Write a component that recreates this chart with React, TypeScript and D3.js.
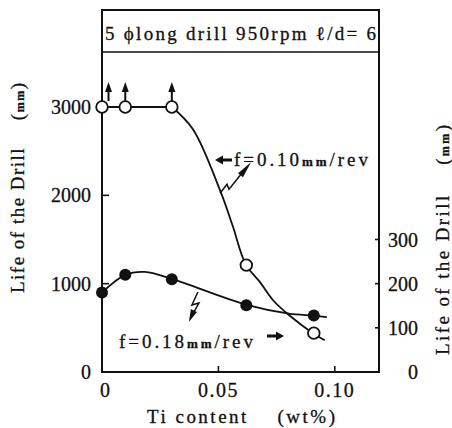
import React, { useEffect, useRef } from 'react'
import * as d3 from 'd3'

// marker values
const tiContent = [0, 0.01, 0.03, 0.062, 0.091]
const lifeF010 = [3000, 3000, 3000, 1210, 440]
const lifeF018 = [900, 1100, 1050, 755, 640]
// upward arrows = drill still alive at end of test
const arrowTi = [0.0028, 0.01, 0.03]

// traced curve paths (points along the drawn lines)
const flatTi = [0, 0.01, 0.03]
const flatLife = [3000, 3000, 3000]
const curve010Ti = [0.03, 0.039, 0.0511, 0.0562, 0.0618, 0.0678, 0.0734, 0.0803, 0.0906, 0.0957]
const curve010Life = [3000, 2750, 2030, 1650, 1216, 1020, 815, 645, 440, 360]
const curve018Ti = [0, 0.01, 0.0185, 0.03, 0.0622, 0.0803, 0.0914, 0.0966]
const curve018Life = [900, 1100, 1133, 1053, 759, 660, 638, 620]

const xTicks = [0, 0.05, 0.1]
const xTickLabels = ['0', '0.05', '0.10']
const leftTicks = [0, 1000, 2000, 3000]
const rightTicks = [0, 100, 200, 300]

const INK = '#111'
const FONT = 'Liberation Serif'

export default function App() {
  const svgRef = useRef<SVGSVGElement | null>(null)

  useEffect(() => {
    const W = 452, H = 428
    const left = 102, right = 379, top = 10, headerBottom = 52, bottom = 372

    const svg = d3.select(svgRef.current)
    svg.selectAll('*').remove()
    svg.attr('width', W).attr('height', H)
    svg.append('rect').attr('width', W).attr('height', H).attr('fill', '#fff')

    const txt = (sel: any) => sel.attr('font-family', FONT).attr('fill', INK)
      .attr('stroke', INK).attr('stroke-width', 0.3)

    const x = d3.scaleLinear().domain([0, 0.119]).range([left, right])
    const y = d3.scaleLinear().domain([0, 3000]).range([bottom, 107])
    const yR = d3.scaleLinear().domain([0, 600]).range([bottom, 107])

    // frame + header box
    svg.append('rect')
      .attr('x', left).attr('y', top).attr('width', right - left).attr('height', bottom - top)
      .attr('fill', 'none').attr('stroke', INK).attr('stroke-width', 2)
    svg.append('line')
      .attr('x1', left).attr('x2', right).attr('y1', headerBottom).attr('y2', headerBottom)
      .attr('stroke', INK).attr('stroke-width', 1.6)

    svg.append('text')
      .attr('x', left + 3).attr('y', 40)
      .attr('font-size', 19)
      .attr('textLength', 271).attr('lengthAdjust', 'spacing')
      .call(txt)
      .text('5 \u03d5long drill 950rpm \u2113/d= 6')

    // ticks
    leftTicks.filter(d => d > 0 && d < 3000).forEach(d => {
      svg.append('line').attr('x1', left).attr('x2', left + 7).attr('y1', y(d)).attr('y2', y(d))
        .attr('stroke', INK).attr('stroke-width', 1.6)
    })
    rightTicks.filter(d => d > 0).forEach(d => {
      svg.append('line').attr('x1', right - 4).attr('x2', right).attr('y1', yR(d)).attr('y2', yR(d))
        .attr('stroke', INK).attr('stroke-width', 1.6)
    })
    xTicks.filter(d => d > 0).forEach(d => {
      svg.append('line').attr('x1', x(d)).attr('x2', x(d)).attr('y1', bottom).attr('y2', bottom - 6)
        .attr('stroke', INK).attr('stroke-width', 1.6)
    })

    // tick labels
    leftTicks.forEach(d => {
      svg.append('text').attr('x', 91).attr('y', y(d) + 7)
        .attr('text-anchor', 'end').attr('font-size', 20).call(txt)
        .text(String(d))
    })
    rightTicks.forEach(d => {
      svg.append('text').attr('x', 418).attr('y', yR(d) + 7)
        .attr('text-anchor', 'end').attr('font-size', 20).call(txt)
        .text(String(d))
    })
    xTicks.forEach((d, i) => {
      svg.append('text').attr('x', x(d) + (i === 0 ? 3 : 0)).attr('y', 397)
        .attr('text-anchor', 'middle').attr('font-size', 20).call(txt)
        .attr('letter-spacing', i === 0 ? 0 : 1.5)
        .text(xTickLabels[i])
    })

    // axis titles
    svg.append('text')
      .attr('x', 147).attr('y', 423)
      .attr('font-size', 19).call(txt)
      .attr('textLength', 188).attr('lengthAdjust', 'spacing')
      .text('Ti content \u3000(wt%)')

    const yTitle = (cx: number, cy: number, len: number) => {
      const t = svg.append('text')
        .attr('transform', `translate(${cx},${cy}) rotate(-90)`)
        .attr('x', -len / 2).attr('dy', 6)
        .attr('font-size', 19).call(txt)
        .attr('textLength', len).attr('lengthAdjust', 'spacing')
      t.append('tspan').text('Life of the Drill \u3000(')
      t.append('tspan').attr('font-size', 12).attr('font-weight', 'bold').text('mm')
      t.append('tspan').text(')')
    }
    yTitle(18, 188, 210)
    yTitle(443, 240, 230)

    // lines
    const flatLine = d3.line<number>().x((_, i) => x(flatTi[i])).y(d => y(d))
    svg.append('path').attr('d', flatLine(flatLife))
      .attr('fill', 'none').attr('stroke', INK).attr('stroke-width', 1.8)

    const line010 = d3.line<number>().x((_, i) => x(curve010Ti[i])).y(d => y(d)).curve(d3.curveCatmullRom)
    svg.append('path').attr('d', line010(curve010Life))
      .attr('fill', 'none').attr('stroke', INK).attr('stroke-width', 1.8)

    const line018 = d3.line<number>().x((_, i) => x(curve018Ti[i])).y(d => y(d)).curve(d3.curveCatmullRom)
    svg.append('path').attr('d', line018(curve018Life))
      .attr('fill', 'none').attr('stroke', INK).attr('stroke-width', 1.8)

    // up arrows
    arrowTi.forEach(t => {
      const ax = x(t), ay = y(3000) - 6
      svg.append('line').attr('x1', ax).attr('x2', ax).attr('y1', ay).attr('y2', ay - 11)
        .attr('stroke', INK).attr('stroke-width', 2)
      svg.append('path')
        .attr('d', `M${ax - 3.5},${ay - 9} L${ax},${ay - 19} L${ax + 3.5},${ay - 9} Z`)
        .attr('fill', INK)
    })

    // markers
    tiContent.forEach((t, i) => {
      svg.append('circle').attr('cx', x(t)).attr('cy', y(lifeF018[i])).attr('r', 6).attr('fill', INK)
    })
    tiContent.forEach((t, i) => {
      svg.append('circle').attr('cx', x(t)).attr('cy', y(lifeF010[i])).attr('r', 5.8)
        .attr('fill', '#fff').attr('stroke', INK).attr('stroke-width', 1.8)
    })

    // labels
    const label = (lx: number, ly: number, speed: string) => {
      const t = svg.append('text').attr('x', lx).attr('y', ly)
        .attr('font-size', 19).call(txt)
        .attr('textLength', 134).attr('lengthAdjust', 'spacing')
      t.append('tspan').text(`f=${speed}`)
      t.append('tspan').attr('font-size', 13).attr('font-weight', 'bold').text('mm')
      t.append('tspan').text('/rev')
    }
    label(234, 166, '0.10')
    label(119, 348, '0.18')

    // thick label arrows
    const arrowHead = (tx: number, ty: number, dir: number) =>
      `M${tx},${ty} L${tx - dir * 8},${ty - 4.5} L${tx - dir * 8},${ty - 1.5} L${tx - dir * 17},${ty - 1.5} L${tx - dir * 17},${ty + 1.5} L${tx - dir * 8},${ty + 1.5} L${tx - dir * 8},${ty + 4.5} Z`
    svg.append('path').attr('d', arrowHead(215, 160, -1)).attr('fill', INK)
    svg.append('path').attr('d', arrowHead(284, 336, 1)).attr('fill', INK)

    // zig-zag leaders
    const a1x = x(0.0507), a1y = y(2000)
    svg.append('path')
      .attr('d', `M${a1x},${a1y - 2} L${a1x + 7},${a1y - 11} L${a1x + 9},${a1y - 6} L${a1x + 21},${a1y - 21}`)
      .attr('fill', 'none').attr('stroke', INK).attr('stroke-width', 1.5)
    svg.append('path')
      .attr('d', `M${a1x + 31},${a1y - 33} L${a1x + 18},${a1y - 22} L${a1x + 23},${a1y - 18} Z`)
      .attr('fill', INK)

    const a2x = x(0.0412), a2y = y(905)
    svg.append('path')
      .attr('d', `M${a2x},${a2y} L${a2x - 6},${a2y + 13} L${a2x + 1},${a2y + 11} L${a2x - 4},${a2y + 20}`)
      .attr('fill', 'none').attr('stroke', INK).attr('stroke-width', 1.5)
    svg.append('path')
      .attr('d', `M${a2x - 9},${a2y + 30} L${a2x - 7},${a2y + 17} L${a2x - 1},${a2y + 20} Z`)
      .attr('fill', INK)
  }, [])

  return (
    <svg ref={svgRef} style={{ position: 'absolute', left: 0, top: 0, display: 'block' }} />
  )
}
